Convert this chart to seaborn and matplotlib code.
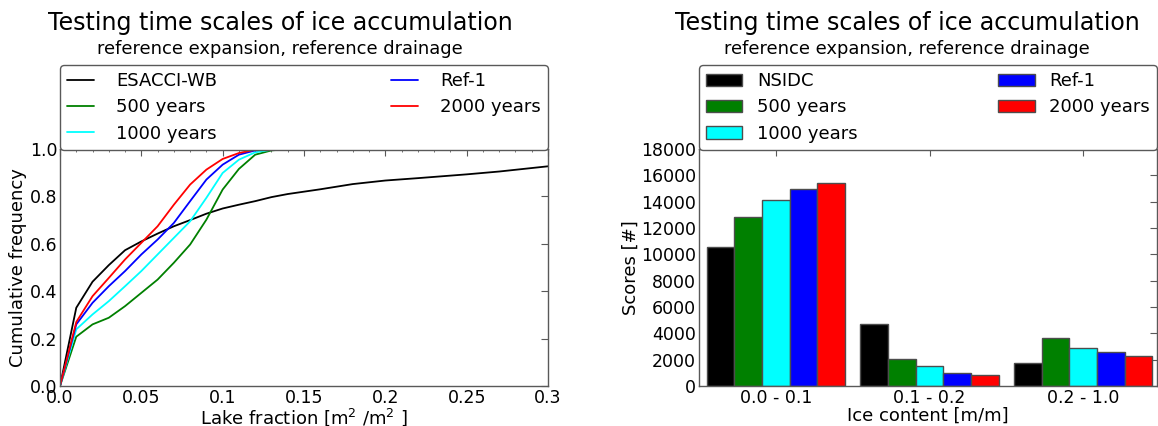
import matplotlib
matplotlib.use("Agg")
import matplotlib.pyplot as plt
import pandas as pd
import seaborn as sns

# cumulative lake fraction curves
lake_frac = [0.0, 0.01, 0.02, 0.03, 0.04, 0.05, 0.06, 0.07, 0.08, 0.09, 0.10,
             0.11, 0.12, 0.13, 0.14, 0.16, 0.18, 0.20, 0.22, 0.25, 0.27, 0.30]
cum_esacci = [0.0, 0.33, 0.44, 0.51, 0.573, 0.61, 0.643, 0.674, 0.70, 0.727, 0.749,
              0.765, 0.78, 0.797, 0.81, 0.83, 0.852, 0.867, 0.877, 0.893, 0.905, 0.927]
cum_500 = [0.0, 0.208, 0.26, 0.288, 0.337, 0.393, 0.449, 0.52, 0.597, 0.702, 0.829,
           0.916, 0.976, 0.994, 1.0, 1.0, 1.0, 1.0, 1.0, 1.0, 1.0, 1.0]
cum_1000 = [0.0, 0.239, 0.302, 0.358, 0.421, 0.485, 0.555, 0.625, 0.695, 0.794, 0.899,
            0.955, 0.986, 0.997, 1.0, 1.0, 1.0, 1.0, 1.0, 1.0, 1.0, 1.0]
cum_ref1 = [0.0, 0.26, 0.351, 0.421, 0.485, 0.555, 0.618, 0.688, 0.78, 0.871, 0.934,
            0.976, 0.994, 1.0, 1.0, 1.0, 1.0, 1.0, 1.0, 1.0, 1.0, 1.0]
cum_2000 = [0.0, 0.27, 0.379, 0.456, 0.534, 0.604, 0.674, 0.765, 0.85, 0.913, 0.958,
            0.983, 0.997, 1.0, 1.0, 1.0, 1.0, 1.0, 1.0, 1.0, 1.0, 1.0]

line_names = ["ESACCI-WB", "500 years", "1000 years", "Ref-1", "2000 years"]

# ice content scores
ice_bins = ["0.0 - 0.1", "0.1 - 0.2", "0.2 - 1.0"]
bar_names = ["NSIDC", "500 years", "1000 years", "Ref-1", "2000 years"]
score_nsidc = [10550, 4680, 1770]
score_500 = [12830, 2070, 3640]
score_1000 = [14140, 1520, 2880]
score_ref1 = [14980, 960, 2580]
score_2000 = [15400, 860, 2270]

colors = ["#000000", "#008000", "#00ffff", "#0000ff", "#ff0000"]

sns.set_style("white")
plt.rcParams["font.family"] = ["DejaVu Sans"]
plt.rcParams["text.color"] = "black"
plt.rcParams["axes.labelcolor"] = "black"
plt.rcParams["xtick.labelcolor"] = "black"
plt.rcParams["ytick.labelcolor"] = "black"
plt.rcParams["xtick.direction"] = "in"
plt.rcParams["ytick.direction"] = "in"
plt.rcParams["xtick.top"] = True
plt.rcParams["ytick.right"] = True

fig = plt.figure(figsize=(11.58, 4.26), dpi=100)
ax1 = fig.add_axes([60 / 1158, 40 / 426, 488 / 1158, 237 / 426])
ax2 = fig.add_axes([699 / 1158, 40 / 426, 458 / 1158, 237 / 426])

# left: cumulative frequency
for name, vals, c in zip(line_names,
                         [cum_esacci, cum_500, cum_1000, cum_ref1, cum_2000],
                         colors):
    sns.lineplot(x=lake_frac, y=vals, color=c, label=name, lw=1.3, ax=ax1)

ax1.set_xlim(0, 0.3)
ax1.set_ylim(0, 1.0)
ax1.set_xticks([0, 0.05, 0.1, 0.15, 0.2, 0.25, 0.3])
ax1.set_xticklabels(["0.0", "0.05", "0.1", "0.15", "0.2", "0.25", "0.3"])
ax1.set_xticks([i / 100 for i in range(31)], minor=True)
ax1.set_yticks([0, 0.2, 0.4, 0.6, 0.8, 1.0])
ax1.set_yticklabels(["0.0", "0.2", "0.4", "0.6", "0.8", "1.0"])
ax1.tick_params(which="major", labelsize=12.5, length=5, pad=2, color="0.35")
ax1.tick_params(which="minor", length=2.5, color="0.35")
ax1.tick_params(axis="y", which="minor", left=False, right=False)
ax1.set_xlabel("Lake fraction [m$^2$ /m$^2$ ]", fontsize=13, labelpad=0)
ax1.set_ylabel("Cumulative frequency", fontsize=13, labelpad=2)
ax1.legend(loc="upper left", bbox_to_anchor=(0, 1.0, 1, 0.354), mode="expand",
           ncol=2, fontsize=13, handlelength=1.5, labelspacing=0.45,
           borderaxespad=0, borderpad=0.4, handletextpad=1.2,
           edgecolor="0.35", fancybox=True, framealpha=1)

# right: bar chart of scores
rows = []
for name, vals in zip(bar_names,
                      [score_nsidc, score_500, score_1000, score_ref1, score_2000]):
    for b, v in zip(ice_bins, vals):
        rows.append({"bin": b, "run": name, "score": v})
df = pd.DataFrame(rows)

sns.barplot(data=df, x="bin", y="score", hue="run", palette=colors,
            width=0.9, saturation=1, edgecolor="0.3", linewidth=1, ax=ax2)
ax2.set_xlim(-0.5, 2.48)
ax2.set_ylim(0, 18000)
ax2.set_yticks(range(0, 18001, 2000))
ax2.tick_params(which="major", labelsize=12.5, length=5, pad=2, color="0.35")
ax2.set_xlabel("Ice content [m/m]", fontsize=13, labelpad=0)
ax2.set_ylabel("Scores [#]", fontsize=13, labelpad=1)
ax2.legend(loc="upper left", bbox_to_anchor=(0, 1.0, 1, 0.354), mode="expand",
           ncol=2, fontsize=13, handlelength=2.0, labelspacing=0.45,
           borderaxespad=0, borderpad=0.4, handletextpad=0.8,
           edgecolor="0.35", fancybox=True, framealpha=1)

for ax in (ax1, ax2):
    for s in ax.spines.values():
        s.set_color("0.35")
        s.set_linewidth(1.0)

for xc in (280 / 1158, 907 / 1158):
    fig.text(xc, 1 - 23 / 426, "Testing time scales of ice accumulation",
             ha="center", va="center", fontsize=17.1)
    fig.text(xc, 1 - 49 / 426, "reference expansion, reference drainage",
             ha="center", va="center", fontsize=12.85)

fig.savefig("out.png", dpi=100)
